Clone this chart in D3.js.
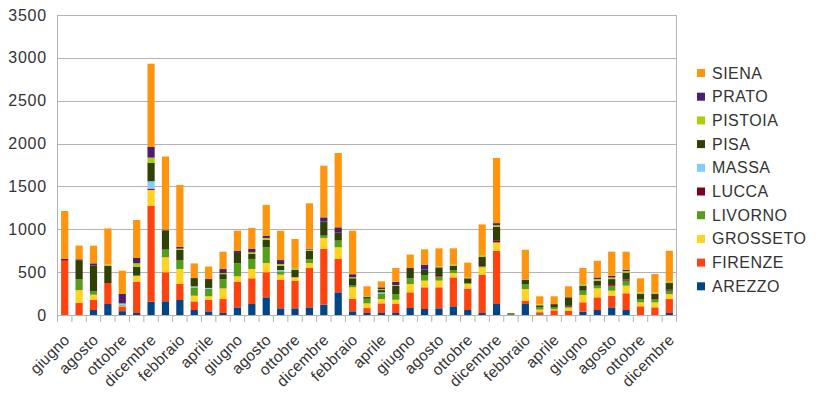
<!DOCTYPE html>
<html>
<head>
<meta charset="utf-8">
<script src="https://cdn.jsdelivr.net/npm/d3@7"></script>
<style>
  html, body { margin: 0; padding: 0; background: #fff; }
  svg { display: block; }
  text { font-family: "Liberation Sans", Arial, sans-serif; fill: #333; }
</style>
</head>
<body>
<svg id="chart" width="820" height="398"></svg>
<script>
// Months (June of year 1 through December of year 4)
const months = [
  "giugno","luglio","agosto","settembre","ottobre","novembre","dicembre",
  "gennaio","febbraio","marzo","aprile","maggio","giugno","luglio","agosto","settembre","ottobre","novembre","dicembre",
  "gennaio","febbraio","marzo","aprile","maggio","giugno","luglio","agosto","settembre","ottobre","novembre","dicembre",
  "gennaio","febbraio","marzo","aprile","maggio","giugno","luglio","agosto","settembre","ottobre","novembre","dicembre"
];

const seriesNames = ["AREZZO","FIRENZE","GROSSETO","LIVORNO","LUCCA","MASSA","PISA","PISTOIA","PRATO","SIENA"];
const seriesColors = ["#004586","#ff420e","#ffd320","#579d1c","#7e0021","#83caff","#314004","#aecf00","#4b1f6f","#ff950e"];

const arezzo   = [0,0,58,128,45,23,156,160,175,58, 43,23,89,128,206,78,78,89,121,265, 43,23,23,23,82,70,78,101,58,23, 128,0,128,8,0,0,39,58,89,58, 0,0,23];
const firenze  = [634,140,117,245,55,366,1120,338,187,101, 132,163,300,300,292,335,323,459,650,389, 144,58,113,105,183,253,245,338,250,447, 622,0,39,25,55,50,109,148,136,195, 101,89,163];
const grosseto = [0,150,62,0,10,70,183,175,175,66, 43,124,62,109,109,58,39,58,128,136, 136,54,50,50,97,78,78,50,55,86, 97,0,136,30,12,35,86,105,58,89, 47,58,58];
const livorno  = [0,130,39,0,10,0,0,90,105,97, 86,109,152,117,183,39,0,47,27,78, 20,55,66,66,66,66,47,35,10,15, 0,12,58,25,20,12,50,31,58,58, 39,39,39];
const lucca    = [20,0,0,0,0,0,15,0,0,0, 0,0,0,0,0,0,0,0,0,0, 0,0,0,0,0,0,19,0,0,12, 25,0,0,0,0,10,0,0,20,15, 0,12,12];
const massa    = [0,0,0,0,15,0,86,0,0,12, 12,0,0,0,0,15,0,0,0,0, 0,0,12,0,0,0,0,0,0,0, 0,0,0,0,0,0,0,0,0,0, 0,0,0];
const pisa     = [0,220,300,202,0,105,218,222,117,97, 93,58,121,58,86,50,89,97,163,97, 86,20,27,97,109,62,89,50,55,97, 156,8,50,25,40,100,58,58,58,78, 58,50,78];
const pistoia  = [0,0,0,15,0,39,58,0,15,0, 0,12,0,19,23,19,20,12,0,0, 12,10,12,8,0,0,12,12,8,19, 19,0,0,10,0,0,19,19,19,20, 19,12,15];
const prato    = [0,10,27,0,110,62,124,12,23,0, 12,47,27,39,27,47,0,12,50,58, 35,0,20,39,12,58,0,0,0,0, 25,0,0,0,0,0,0,19,20,16, 0,0,0];
const siena    = [560,160,206,420,272,443,972,852,720,171, 144,202,233,245,358,342,338,529,603,867, 508,115,70,160,156,179,210,192,175,358, 760,0,350,95,91,128,187,195,281,210, 164,218,362];

const yTicks = [0,500,1000,1500,2000,2500,3000,3500];

const seriesValues = [arezzo, firenze, grosseto, livorno, lucca, massa, pisa, pistoia, prato, siena];

// Build table rows
const rows = months.map((m, i) => {
  const r = { idx: i, month: m };
  seriesNames.forEach((s, k) => { r[s] = seriesValues[k][i]; });
  return r;
});

const svg = d3.select("#chart");
const mLeft = 57.5, mRight = 676.5, mTop = 15, mBottom = 315;
const grid = "#b3b3b3";

const x = d3.scaleBand().domain(d3.range(months.length)).range([mLeft, mRight]).paddingInner(0.5).paddingOuter(0.25);
const y = d3.scaleLinear().domain([0, 3500]).range([mBottom, mTop]);

// gridlines
svg.append("g").selectAll("line").data(yTicks).join("line")
  .attr("x1", mLeft).attr("x2", mRight)
  .attr("y1", d => Math.round(y(d)) + 0.5).attr("y2", d => Math.round(y(d)) + 0.5)
  .attr("stroke", grid).attr("stroke-width", 1);

// y labels
svg.append("g").selectAll("text").data(yTicks).join("text")
  .attr("x", 47).attr("y", d => y(d))
  .attr("text-anchor", "end").attr("dominant-baseline", "central")
  .style("font-size", "16px").style("letter-spacing", "0.8px")
  .text(d => d);

// stacked bars
const stack = d3.stack().keys(seriesNames);
const layers = stack(rows);
svg.append("g").selectAll("g").data(layers).join("g")
  .attr("fill", (d, i) => seriesColors[i])
  .selectAll("rect").data(d => d).join("rect")
  .attr("x", d => x(d.data.idx))
  .attr("width", x.bandwidth())
  .attr("y", d => y(d[1]))
  .attr("height", d => Math.max(0, y(d[0]) - y(d[1])));

// axes lines
const step = x.step();
const tickPos = d3.range(months.length + 1).map(i => (i < months.length ? x(i) - step * x.paddingInner() / 2 : x(months.length - 1) + x.bandwidth() + step * x.paddingInner() / 2));
svg.append("line").attr("x1", mLeft).attr("x2", mLeft).attr("y1", mTop).attr("y2", mBottom)
  .attr("stroke", grid);
svg.append("line").attr("x1", mRight).attr("x2", mRight).attr("y1", mTop).attr("y2", mBottom)
  .attr("stroke", grid);
svg.append("line").attr("x1", mLeft).attr("x2", mRight).attr("y1", mBottom + 0.5).attr("y2", mBottom + 0.5)
  .attr("stroke", grid);
svg.append("g").selectAll("line").data(tickPos).join("line")
  .attr("x1", d => d).attr("x2", d => d)
  .attr("y1", mBottom).attr("y2", mBottom + 7)
  .attr("stroke", grid);

// x labels (every other month)
svg.append("g").selectAll("text").data(rows.filter(r => r.idx % 2 === 0)).join("text")
  .attr("transform", d => `translate(${x(d.idx) + x.bandwidth() / 2 + 2},${mBottom + 22}) rotate(-45)`)
  .attr("text-anchor", "end").attr("dominant-baseline", "central")
  .style("font-size", "15.5px").style("letter-spacing", "0.3px")
  .text(d => d.month);

// legend
const legendOrder = d3.range(seriesNames.length).reverse();
const lg = svg.append("g").selectAll("g").data(legendOrder).join("g")
  .attr("transform", (d, i) => `translate(697, ${73 + i * 23.7})`);
lg.append("rect").attr("x", 0).attr("y", -4).attr("width", 8).attr("height", 8)
  .attr("fill", d => seriesColors[d]);
lg.append("text").attr("x", 15).attr("y", 0).attr("dominant-baseline", "central")
  .style("font-size", "16px").style("letter-spacing", "0.5px")
  .text(d => seriesNames[d]);
</script>
</body>
</html>
